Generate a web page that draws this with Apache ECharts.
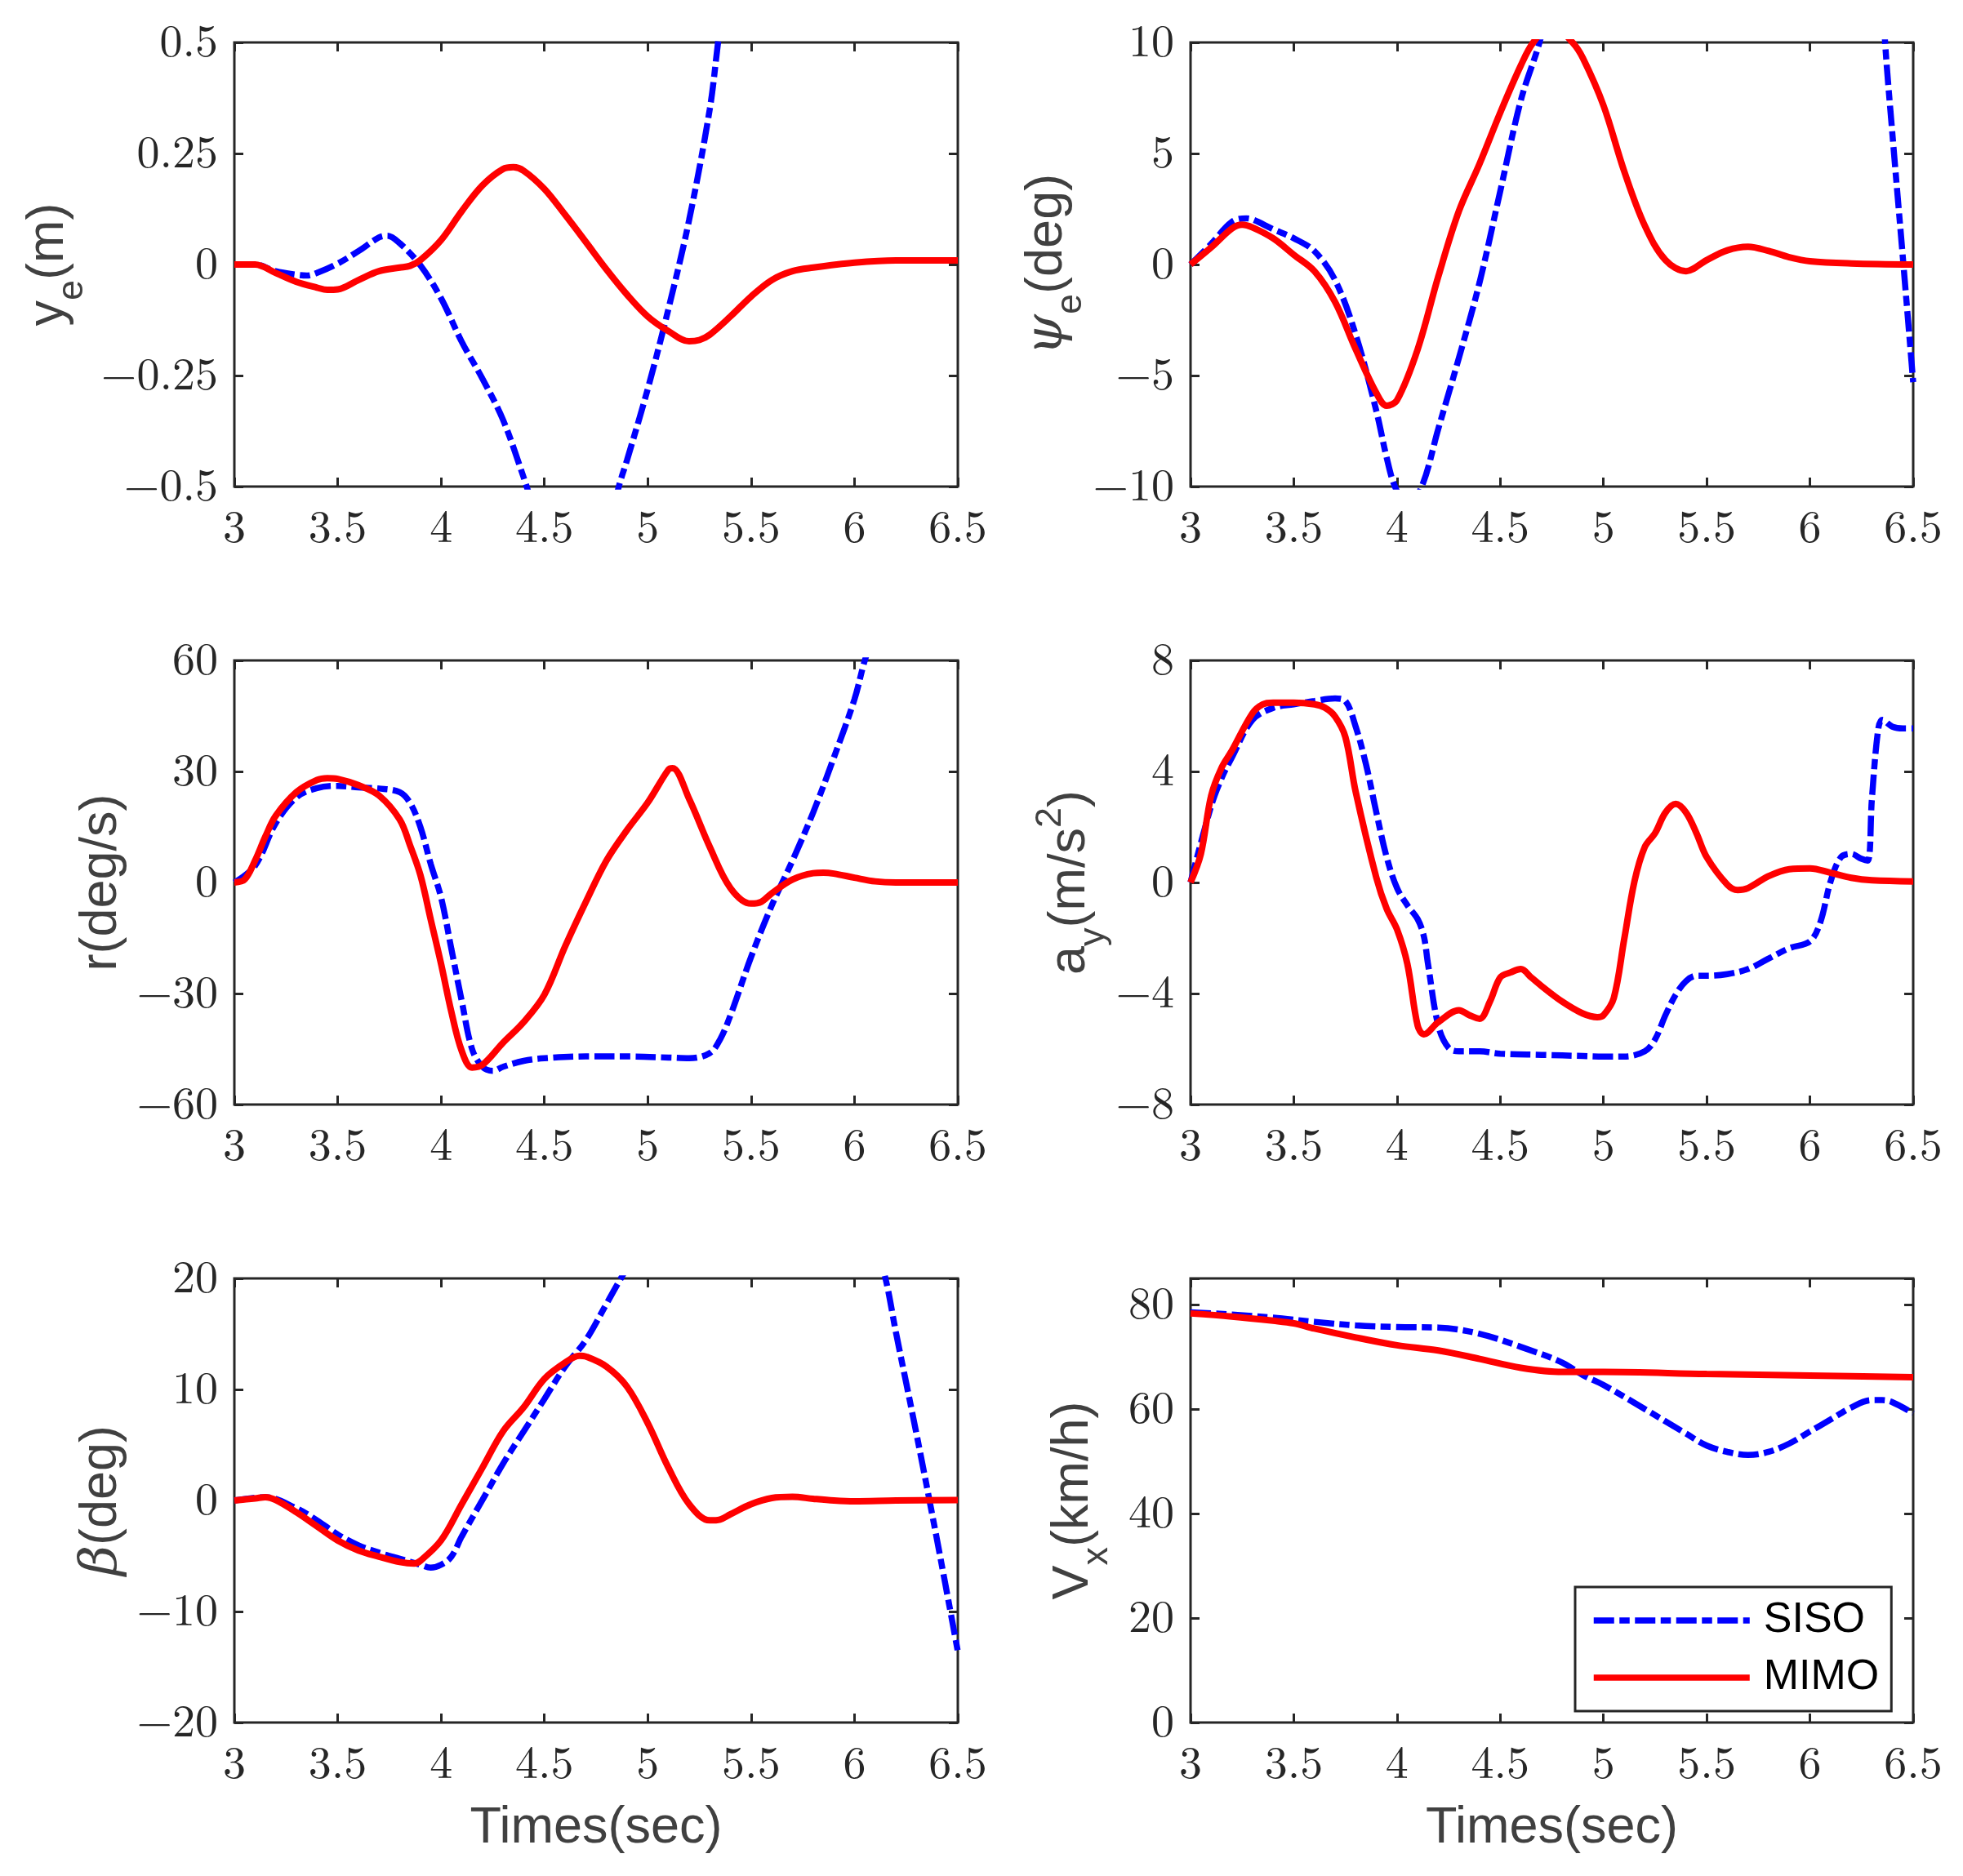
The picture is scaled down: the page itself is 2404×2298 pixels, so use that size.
<!DOCTYPE html>
<html>
<head>
<meta charset="utf-8">
<script src="https://cdn.jsdelivr.net/npm/echarts@6/dist/echarts.min.js"></script>
<style>html,body{margin:0;padding:0;background:#fff}#c{width:2404px;height:2298px}</style>
</head>
<body>
<div id="c"></div>
<script>
// ---------------- data (time in s, value) ----------------
const xTicks = { min: 3, max: 6.5, interval: 0.5 };

const yeSISO = [[3,0],[3.1,0],[3.2,-0.015],[3.3,-0.023],[3.35,-0.025],[3.4,-0.019],[3.5,0.002],[3.6,0.03],[3.7,0.061],[3.74,0.065],[3.8,0.048],[3.9,-0.002],[4.0,-0.076],[4.1,-0.174],[4.2,-0.257],[4.3,-0.35],[4.4,-0.48],[4.5,-0.62],[4.6,-0.7],[4.7,-0.71],[4.8,-0.62],[4.86,-0.5],[4.9,-0.44],[5.0,-0.28],[5.1,-0.1],[5.2,0.1],[5.3,0.35],[5.34,0.5],[5.4,0.72]];
const yeMIMO = [[3,0],[3.1,0],[3.2,-0.019],[3.3,-0.039],[3.4,-0.052],[3.45,-0.057],[3.5,-0.056],[3.6,-0.035],[3.7,-0.015],[3.8,-0.007],[3.85,-0.003],[3.9,0.01],[4.0,0.055],[4.1,0.12],[4.2,0.178],[4.3,0.215],[4.35,0.219],[4.4,0.211],[4.5,0.17],[4.6,0.112],[4.7,0.051],[4.8,-0.011],[4.9,-0.068],[5.0,-0.117],[5.1,-0.15],[5.2,-0.173],[5.25,-0.17],[5.3,-0.158],[5.4,-0.117],[5.5,-0.072],[5.6,-0.035],[5.7,-0.015],[5.8,-0.007],[6.0,0.004],[6.2,0.009],[6.5,0.009]];

const psiSISO = [[3,0],[3.1,0.93],[3.2,1.92],[3.27,2.08],[3.3,2.03],[3.4,1.59],[3.5,1.18],[3.6,0.6],[3.7,-0.7],[3.8,-3.16],[3.9,-6.6],[3.95,-8.7],[3.99,-10],[4.05,-10.9],[4.12,-10],[4.2,-7.4],[4.3,-4.2],[4.4,-0.8],[4.5,3.3],[4.6,7.4],[4.69,10],[4.8,14],[5.5,30],[6.2,28],[6.3,20],[6.364,10],[6.4,5.8],[6.45,0.3],[6.5,-5.3]];
const psiMIMO = [[3,0],[3.1,0.77],[3.2,1.62],[3.25,1.79],[3.3,1.67],[3.4,1.18],[3.5,0.44],[3.6,-0.3],[3.7,-1.69],[3.8,-3.82],[3.9,-5.79],[3.95,-6.36],[4.0,-6.11],[4.1,-3.82],[4.2,-0.54],[4.3,2.41],[4.4,4.54],[4.5,6.84],[4.6,8.97],[4.66,10],[4.75,10.8],[4.85,10],[4.9,9.3],[5.0,7.16],[5.1,4.21],[5.2,1.75],[5.3,0.2],[5.4,-0.3],[5.5,0.2],[5.6,0.64],[5.7,0.8],[5.8,0.61],[5.9,0.33],[6.0,0.15],[6.2,0.05],[6.5,0]];

const rSISO = [[3,0],[3.1,4.5],[3.2,16],[3.3,23],[3.4,25.5],[3.5,26.1],[3.6,25.7],[3.7,25.4],[3.8,24.4],[3.85,21.5],[3.9,15],[3.95,5],[4.0,-4],[4.05,-18],[4.1,-32],[4.15,-45],[4.2,-49.8],[4.25,-50.9],[4.3,-49.8],[4.4,-48.2],[4.5,-47.5],[4.7,-47],[4.9,-47],[5.1,-47.3],[5.2,-47.5],[5.3,-46.1],[5.35,-42.4],[5.4,-35.9],[5.5,-20.1],[5.6,-6.2],[5.7,5.9],[5.8,18.9],[5.9,33.7],[6.0,49.5],[6.05,60],[6.1,68]];
const rMIMO = [[3,0],[3.05,0.8],[3.1,5.9],[3.15,12.4],[3.2,18],[3.3,24.4],[3.4,27.7],[3.45,28.2],[3.5,28],[3.6,26.3],[3.7,23.5],[3.8,17],[3.85,10],[3.9,2],[3.95,-10],[4.0,-22],[4.05,-35],[4.1,-45.5],[4.15,-50],[4.2,-49.3],[4.3,-43.3],[4.4,-37.7],[4.5,-30.3],[4.6,-17.3],[4.7,-5.3],[4.8,5.9],[4.9,14.2],[5.0,21.6],[5.1,30.5],[5.12,30.9],[5.2,22.6],[5.3,9.6],[5.4,-1.5],[5.5,-5.7],[5.55,-5.2],[5.6,-2.9],[5.7,0.8],[5.8,2.5],[5.85,2.65],[5.9,2.4],[6.0,1.3],[6.1,0.3],[6.2,0],[6.5,0]];

const aySISO = [[3,0],[3.1,2.76],[3.15,3.75],[3.2,4.5],[3.3,5.86],[3.4,6.29],[3.5,6.42],[3.6,6.54],[3.7,6.63],[3.75,6.54],[3.8,5.61],[3.85,4.25],[3.9,2.52],[3.95,0.91],[4.0,-0.2],[4.05,-0.82],[4.1,-1.32],[4.13,-1.94],[4.15,-2.93],[4.2,-5.16],[4.25,-5.96],[4.3,-6.08],[4.4,-6.08],[4.5,-6.17],[4.7,-6.21],[4.9,-6.25],[5.0,-6.27],[5.1,-6.27],[5.2,-6.08],[5.25,-5.65],[5.3,-4.78],[5.35,-4.04],[5.4,-3.55],[5.45,-3.36],[5.5,-3.36],[5.6,-3.3],[5.7,-3.12],[5.8,-2.74],[5.9,-2.37],[6.0,-2.12],[6.05,-1.44],[6.1,0.04],[6.15,0.91],[6.2,1.03],[6.25,0.85],[6.28,0.79],[6.3,3.01],[6.33,5.49],[6.35,5.86],[6.4,5.61],[6.45,5.55],[6.5,5.55]];
const ayMIMO = [[3,0],[3.05,1.03],[3.1,3.13],[3.15,4.13],[3.2,4.75],[3.3,6.1],[3.35,6.42],[3.4,6.48],[3.5,6.48],[3.6,6.42],[3.65,6.3],[3.7,5.98],[3.75,5.24],[3.8,3.26],[3.9,0.17],[3.95,-0.95],[4.0,-1.69],[4.05,-2.93],[4.1,-5.16],[4.13,-5.47],[4.2,-5.03],[4.3,-4.6],[4.35,-4.78],[4.4,-4.91],[4.45,-4.29],[4.5,-3.42],[4.55,-3.24],[4.6,-3.12],[4.65,-3.42],[4.7,-3.73],[4.8,-4.29],[4.9,-4.72],[4.97,-4.85],[5.0,-4.78],[5.05,-4.16],[5.1,-2.06],[5.15,0.04],[5.2,1.28],[5.25,1.78],[5.3,2.52],[5.35,2.83],[5.4,2.52],[5.45,1.78],[5.5,0.91],[5.6,-0.08],[5.65,-0.27],[5.7,-0.2],[5.8,0.23],[5.9,0.48],[6.0,0.51],[6.1,0.35],[6.2,0.17],[6.3,0.08],[6.5,0.04]];

const betaSISO = [[3,0],[3.15,0.3],[3.3,-0.7],[3.4,-1.79],[3.5,-3.06],[3.6,-4.04],[3.7,-4.7],[3.8,-5.25],[3.9,-5.79],[3.95,-6.05],[4.0,-5.79],[4.05,-5.06],[4.1,-3.24],[4.2,0.04],[4.3,3.32],[4.4,6.23],[4.5,9.14],[4.6,12.06],[4.7,14.43],[4.8,17.7],[4.87,20],[5.0,24],[5.5,30],[6.0,27],[6.1,23],[6.15,20],[6.2,15.2],[6.3,6.0],[6.4,-3.6],[6.5,-13.6]];
const betaMIMO = [[3,0],[3.1,0.18],[3.15,0.3],[3.2,0.04],[3.3,-1.06],[3.4,-2.33],[3.5,-3.6],[3.6,-4.5],[3.7,-5.06],[3.8,-5.54],[3.87,-5.68],[3.9,-5.43],[4.0,-3.6],[4.1,-0.33],[4.2,2.95],[4.3,6.23],[4.4,8.4],[4.5,10.96],[4.6,12.42],[4.67,13.04],[4.7,12.97],[4.8,12.06],[4.9,10.24],[5.0,6.96],[5.1,2.95],[5.2,-0.33],[5.3,-1.79],[5.35,-1.71],[5.4,-1.24],[5.5,-0.33],[5.6,0.22],[5.7,0.33],[5.8,0.15],[5.9,0],[6.0,-0.07],[6.2,0],[6.5,0.04]];

const vxSISO = [[3,78.5],[3.2,78.1],[3.4,77.5],[3.6,76.7],[3.8,76.0],[4.0,75.7],[4.2,75.6],[4.4,74.4],[4.6,71.9],[4.8,68.9],[4.9,66.5],[5.0,64.6],[5.2,60],[5.4,55.3],[5.5,53],[5.6,51.8],[5.7,51.2],[5.8,51.8],[5.9,53.4],[6.0,55.7],[6.1,58],[6.2,60.3],[6.3,61.7],[6.35,61.7],[6.4,61.3],[6.5,59.2]];
const vxMIMO = [[3,78.3],[3.2,77.7],[3.4,76.9],[3.5,76.4],[3.6,75.4],[3.8,73.7],[4.0,72.2],[4.2,71.2],[4.4,69.6],[4.6,67.9],[4.8,67.1],[5.0,67.1],[5.5,66.7],[6.0,66.4],[6.5,66.1]];

const yRanges = [
  { min: -0.5, max: 0.5, interval: 0.25 },
  { min: -10, max: 10, interval: 5 },
  { min: -60, max: 60, interval: 30 },
  { min: -8, max: 8, interval: 4 },
  { min: -20, max: 20, interval: 10 },
  { min: 0, max: 85, interval: 20 }
];
const yNames = [
  '{a|y}{s|e}{a|(m)}',
  '{g|\u03C8}{s|e}{a|(deg)}',
  '{a|r(deg/s)}',
  '{a|a}{s|y}{a|(m/s}{p|2}{a|)}',
  '{g|\u03B2}{a|(deg)}',
  '{a|V}{s|x}{a|(km/h)}'
];
const xName = 'Times(sec)';
const seriesNames = ['SISO', 'MIMO'];
const panelData = [
  [yeSISO, yeMIMO], [psiSISO, psiMIMO], [rSISO, rMIMO],
  [aySISO, ayMIMO], [betaSISO, betaMIMO], [vxSISO, vxMIMO]
];

// ---------------- layout / style ----------------
const SERIF = "'Latin Modern Roman','CMU Serif','Liberation Serif','Times New Roman',serif";
const SANS = "'Liberation Sans',Arial,Helvetica,sans-serif";
const GREEK = "'DejaVu Serif','Liberation Serif',serif";
const AX = '#262626';
const LBL = '#404040';
const colLeft = [287, 1458];
const colW = [886, 885];
const rowTop = [52, 809, 1566];
const rowH = 544;
const nameGaps = [192, 140, 127, 108, 127, 108];

const rich = {
  a: { fontFamily: SANS, fontSize: 63, lineHeight: 70, color: LBL },
  g: { fontFamily: GREEK, fontStyle: 'italic', fontSize: 64, lineHeight: 70, color: LBL },
  s: { fontFamily: SANS, fontSize: 45, height: 12, verticalAlign: 'bottom', color: LBL },
  p: { fontFamily: SANS, fontSize: 45, height: 22, verticalAlign: 'top', color: LBL }
};

function fmt(v) {
  if (Math.abs(v) < 1e-9) return '0';
  const s = String(+Math.abs(v).toFixed(4));
  return (v < 0 ? '\u2212' : '') + s;
}

const grids = [], xAxes = [], yAxes = [], series = [];
for (let i = 0; i < 6; i++) {
  const c = i % 2, r = Math.floor(i / 2);
  grids.push({
    left: colLeft[c], top: rowTop[r], width: colW[c], height: rowH,
    show: true, borderColor: AX, borderWidth: 3, backgroundColor: 'transparent'
  });
  const tickStyle = { show: true, inside: true, length: 11, lineStyle: { color: AX, width: 3 } };
  const noLine = { show: false, onZero: false };
  xAxes.push({
    type: 'value', gridIndex: i, position: 'bottom',
    min: xTicks.min, max: xTicks.max, interval: xTicks.interval,
    axisLine: noLine, axisTick: tickStyle, splitLine: { show: false },
    axisLabel: { fontFamily: SERIF, fontSize: 56, color: AX, margin: 23, formatter: fmt,
                 showMinLabel: true, showMaxLabel: true },
    name: r === 2 ? xName : '', nameLocation: 'middle', nameGap: 98,
    nameTextStyle: { fontFamily: SANS, fontSize: 63, color: LBL }
  });
  xAxes.push({
    type: 'value', gridIndex: i, position: 'top',
    min: xTicks.min, max: xTicks.max, interval: xTicks.interval,
    axisLine: noLine, axisTick: tickStyle, splitLine: { show: false },
    axisLabel: { show: false }
  });
  const yr = yRanges[i];
  yAxes.push({
    type: 'value', gridIndex: i, position: 'left',
    min: yr.min, max: yr.max, interval: yr.interval,
    axisLine: noLine, axisTick: tickStyle, splitLine: { show: false },
    axisLabel: { fontFamily: SERIF, fontSize: 56, color: AX, margin: 20,
                 formatter: function (v) { return (v > yr.max - 1e-9 && (yr.max - yr.min) % yr.interval !== 0) ? '' : fmt(v); } },
    name: yNames[i], nameLocation: 'middle', nameGap: nameGaps[i],
    nameTextStyle: { rich: rich }
  });
  yAxes.push({
    type: 'value', gridIndex: i, position: 'right',
    min: yr.min, max: yr.max, interval: yr.interval,
    axisLine: noLine, axisTick: tickStyle, splitLine: { show: false },
    axisLabel: { show: false }
  });
  const d = panelData[i];
  series.push({
    name: seriesNames[0], type: 'line', xAxisIndex: 2 * i, yAxisIndex: 2 * i,
    data: d[0], symbol: 'none', smooth: 0.35, clip: true,
    lineStyle: { color: '#0000ff', width: 7.5, type: [25, 6.5, 12.5, 6.5] },
    itemStyle: { color: '#0000ff' }, z: 2, silent: true
  });
  series.push({
    name: seriesNames[1], type: 'line', xAxisIndex: 2 * i, yAxisIndex: 2 * i,
    data: d[1], symbol: 'none', smooth: 0.35, clip: true,
    lineStyle: { color: '#ff0000', width: 8, type: 'solid' },
    itemStyle: { color: '#ff0000' }, z: 3, silent: true
  });
}

const chart = echarts.init(document.getElementById('c'), null, { renderer: 'canvas', width: 2404, height: 2298 });
chart.setOption({
  animation: false,
  backgroundColor: '#ffffff',
  grid: grids, xAxis: xAxes, yAxis: yAxes, series: series,
  legend: {
    data: seriesNames, orient: 'vertical', left: 1929, top: 1944,
    padding: [11, 15, 11, 19], itemGap: 10, itemWidth: 191, itemHeight: 14,
    backgroundColor: '#ffffff', borderColor: AX, borderWidth: 3, borderRadius: 0,
    selectedMode: false, z: 10,
    itemStyle: { color: 'rgba(0,0,0,0)', borderWidth: 0, opacity: 0 },
    lineStyle: { width: 7.5 },
    textStyle: { fontFamily: SANS, fontSize: 52, color: '#000', lineHeight: 60, padding: [0, 0, 0, 12] }
  }
});
</script>
</body>
</html>
